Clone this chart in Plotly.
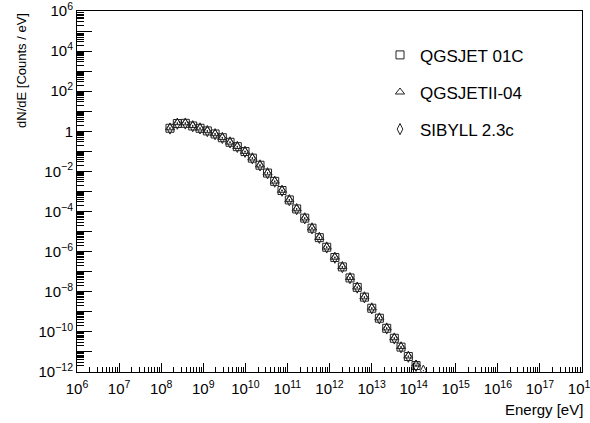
import plotly.graph_objects as go

# Energy bin centres [eV]
energy = [1.62e8, 2.42e8, 3.75e8, 5.62e8, 8.38e8, 1.25e9, 1.91e9, 2.84e9, 4.33e9,
          6.45e9, 9.82e9, 1.47e10, 2.23e10, 3.37e10, 4.99e10, 7.44e10, 1.11e11,
          1.66e11, 2.58e11, 3.84e11, 5.73e11, 8.59e11, 1.34e12, 2.02e12, 3.07e12,
          4.56e12, 6.76e12, 1.01e13, 1.53e13, 2.29e13, 3.47e13, 5.01e13, 7.47e13,
          1.14e14]
energy_sib = energy + [1.70e14]

qgsjet01c = [1.42, 2.45, 2.51, 1.85, 1.42, 1.05, 0.74, 0.48, 0.285, 0.172, 0.098,
             0.046, 0.0204, 8.3e-3, 3.2e-3, 1.12e-3, 3.8e-4, 1.35e-4, 4.7e-5,
             1.48e-5, 5.0e-6, 1.66e-6, 5.1e-7, 1.74e-7, 4.9e-8, 1.66e-8, 5.4e-9,
             1.51e-9, 4.8e-10, 1.51e-10, 4.8e-11, 1.74e-11, 5.9e-12, 2.1e-12]
qgsjetii04 = [1.50, 2.70, 2.65, 1.95, 1.48, 1.08, 0.76, 0.49, 0.29, 0.175, 0.100,
              0.047, 0.0210, 8.5e-3, 3.3e-3, 1.15e-3, 3.9e-4, 1.38e-4, 4.8e-5,
              1.52e-5, 5.1e-6, 1.70e-6, 5.3e-7, 1.80e-7, 5.1e-8, 1.72e-8, 5.6e-9,
              1.58e-9, 5.0e-10, 1.58e-10, 5.1e-11, 1.85e-11, 6.3e-12, 2.5e-12]
sibyll23c = [1.38, 2.40, 2.45, 1.80, 1.40, 1.03, 0.72, 0.47, 0.28, 0.168, 0.096,
             0.045, 0.0200, 8.1e-3, 3.1e-3, 1.10e-3, 3.7e-4, 1.32e-4, 4.6e-5,
             1.45e-5, 4.9e-6, 1.62e-6, 5.0e-7, 1.70e-7, 4.8e-8, 1.62e-8, 5.3e-9,
             1.48e-9, 4.7e-10, 1.48e-10, 4.7e-11, 1.70e-11, 5.8e-12, 2.0e-12, 1.17e-12]

series = [
    ("QGSJET 01C", energy, qgsjet01c, "square-open"),
    ("QGSJETII-04", energy, qgsjetii04, "triangle-up-open"),
    ("SIBYLL 2.3c", energy_sib, sibyll23c, "diamond-tall-open"),
]

x_exps = list(range(6, 19))
y_exps = list(range(-12, 7))


def label(e):
    if e == 0:
        return "1"
    s = str(e).replace("-", "\u2212")
    return f"10<sup>{s}</sup>"


fig = go.Figure()
for i, (name, xs, ys, sym) in enumerate(series):
    fig.add_trace(go.Scatter(
        x=xs, y=ys, mode="markers", name=name,
        legendgroup=f"g{i}",
        marker=dict(symbol=sym, size=8, color="#222",
                    line=dict(width=1, color="#222")),
        error_y=dict(type="percent", value=8, width=0, thickness=1, color="#222"),
    ))

fig.update_layout(
    width=590, height=423,
    margin=dict(l=77, r=8, t=11, b=51),
    paper_bgcolor="white", plot_bgcolor="white",
    font=dict(family="Liberation Sans, Arial, sans-serif", color="black", size=15),
    showlegend=True,
    legend=dict(x=0.6, y=0.927, xanchor="left", yanchor="top",
                font=dict(size=17), bgcolor="rgba(0,0,0,0)",
                traceorder="grouped", tracegroupgap=12),
    xaxis=dict(
        type="log", range=[6, 18], automargin=False, ticklabeloverflow="allow",
        tickmode="array", tickvals=[10.0 ** e for e in x_exps],
        ticktext=[label(e) for e in x_exps], ticklabelstandoff=3,
        ticks="inside", ticklen=9, tickwidth=1, tickcolor="black",
        minor=dict(ticks="inside", ticklen=5, tickcolor="black", tickwidth=1,
                   dtick="D1", showgrid=False),
        showline=True, linecolor="black", linewidth=1, mirror=True,
        showgrid=False, zeroline=False, tickfont=dict(size=15),
    ),
    yaxis=dict(
        type="log", range=[-12, 6], automargin=False, ticklabeloverflow="allow",
        tickmode="array", tickvals=[10.0 ** e for e in y_exps],
        ticktext=[label(e) if e % 2 == 0 else "" for e in y_exps],
        ticks="inside", ticklen=15, tickwidth=1, tickcolor="black",
        minor=dict(ticks="inside", ticklen=7, tickcolor="black", tickwidth=1,
                   dtick="D1", showgrid=False),
        showline=True, linecolor="black", linewidth=1, mirror=True,
        showgrid=False, zeroline=False, tickfont=dict(size=15),
    ),
    annotations=[
        dict(text="dN/dE [Counts / eV]", xref="paper", yref="paper",
             x=-0.11, y=1.0, xanchor="center", yanchor="top", textangle=-90,
             showarrow=False, font=dict(size=13)),
        dict(text="Energy [eV]", xref="paper", yref="paper",
             x=1.005, y=-0.105, xanchor="right", yanchor="middle",
             showarrow=False, font=dict(size=15)),
    ],
)

fig.write_html("out.html")
